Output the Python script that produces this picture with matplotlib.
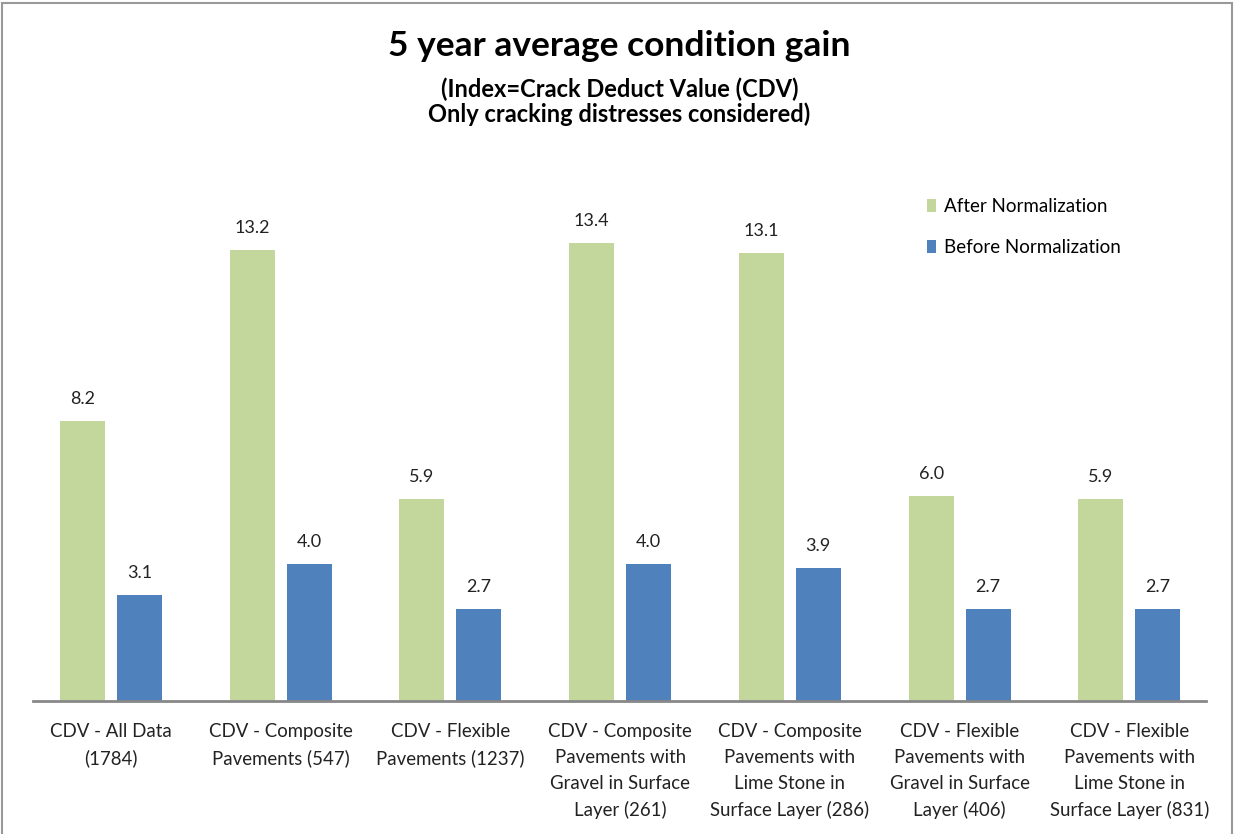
import matplotlib.pyplot as plt
import numpy as np
from matplotlib.patches import Rectangle

plt.rcParams['font.family'] = ['Lato', 'DejaVu Sans']

categories = ['CDV - All Data\n(1784)',
              'CDV - Composite\nPavements (547)',
              'CDV - Flexible\nPavements (1237)',
              'CDV - Composite\nPavements with\nGravel in Surface\nLayer (261)',
              'CDV - Composite\nPavements with\nLime Stone in\nSurface Layer (286)',
              'CDV - Flexible\nPavements with\nGravel in Surface\nLayer (406)',
              'CDV - Flexible\nPavements with\nLime Stone in\nSurface Layer (831)']
after_norm = [8.2, 13.2, 5.9, 13.4, 13.1, 6.0, 5.9]
before_norm = [3.1, 4.0, 2.7, 4.0, 3.9, 2.7, 2.7]

green = '#C3D69B'
blue = '#4F81BD'

fig = plt.figure(figsize=(12.39, 8.34), dpi=100)
ax = fig.add_axes([0.021, 0.1595, 0.959, 0.656])

x = np.arange(len(categories))
width = 0.265
gap = 0.035

b1 = ax.bar(x - width / 2 - gap, after_norm, width, color=green, label='After Normalization')
b2 = ax.bar(x + width / 2 + gap, before_norm, width, color=blue, label='Before Normalization')

for bars in (b1, b2):
    for rect in bars:
        ax.annotate(f'{rect.get_height():.1f}',
                    (rect.get_x() + rect.get_width() / 2, rect.get_height()),
                    xytext=(0, 10), textcoords='offset points',
                    ha='center', va='bottom', fontsize=13, color='#222222')

ax.set_xlim(-0.5, len(categories) - 0.5)
ax.set_ylim(0, 16)
ax.set_xticks(x)
ax.set_xticklabels(categories, fontsize=13.4, color='#222222', linespacing=1.62)
ax.tick_params(axis='x', length=0, pad=16)
ax.set_yticks([])
for s in ('top', 'left', 'right'):
    ax.spines[s].set_visible(False)
ax.spines['bottom'].set_color('#888888')
ax.spines['bottom'].set_linewidth(2)
ax.spines['bottom'].set_bounds(-0.46, 6.45)

ax.legend(loc='upper left', bbox_to_anchor=(0.744, 0.95), frameon=False,
          fontsize=13.5, handlelength=0.5, handleheight=0.7, handletextpad=0.4,
          labelspacing=1.3)

fig.text(0.5, 0.945, '5 year average condition gain', ha='center', va='center',
         fontsize=25.5, fontweight='bold')
fig.text(0.5, 0.893, '(Index=Crack Deduct Value (CDV)', ha='center', va='center',
         fontsize=17, fontweight='bold')
fig.text(0.5, 0.863, 'Only cracking distresses considered)', ha='center', va='center',
         fontsize=17, fontweight='bold')

fig.patches.append(Rectangle((0.002, -0.01), 0.992, 1.006, transform=fig.transFigure,
                             fill=False, edgecolor='#999999', linewidth=1.5))

plt.savefig('out.png')
